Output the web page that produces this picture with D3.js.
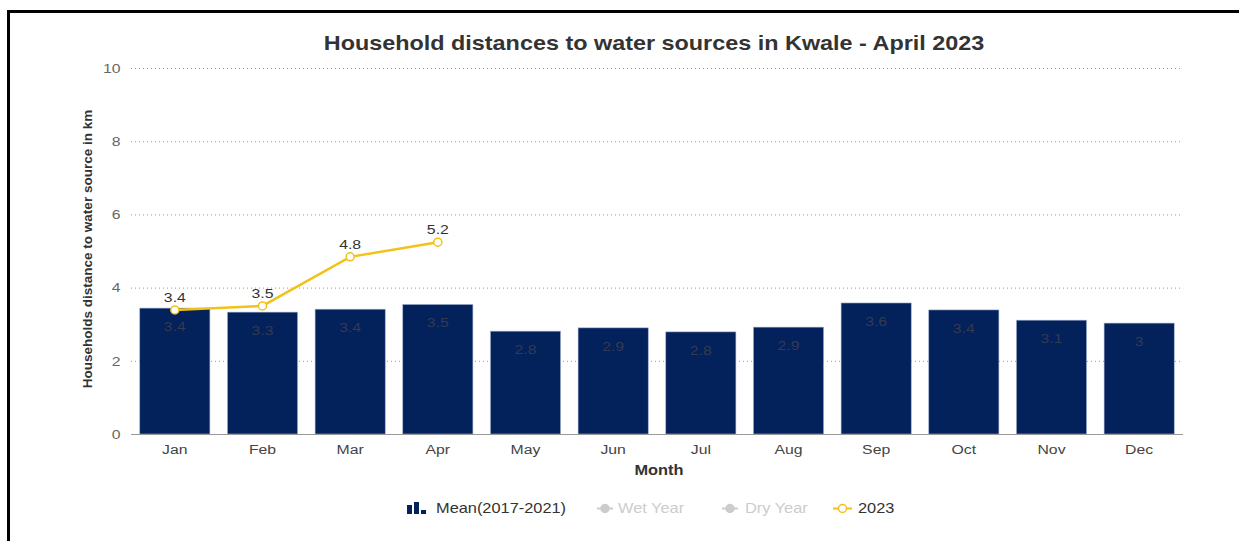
<!DOCTYPE html>
<meta charset="utf-8">
<script src="https://d3js.org/d3.v7.min.js"></script>
<style>
  body { margin: 0; background: #fff; }
  text { font-family: "Liberation Sans", Arial, sans-serif; }
</style>
<div id="my_dataviz"></div>
<script>
// data
var months = ["Jan", "Feb", "Mar", "Apr", "May", "Jun", "Jul", "Aug", "Sep", "Oct", "Nov", "Dec"];
var meanValues = [3.44, 3.33, 3.41, 3.54, 2.81, 2.9, 2.79, 2.92, 3.58, 3.39, 3.11, 3.03];
var months2023 = ["Jan", "Feb", "Mar", "Apr"];
var values2023 = [3.39, 3.5, 4.84, 5.24];
var yTicks = [0, 2, 4, 6, 8, 10];
var legendItems = ["Mean(2017-2021)", "Wet Year", "Dry Year", "2023"];

var W = 1239, H = 541;
var SX = 1.17; // the source image is a bit stretched sideways
var margin = {top: 68, right: 56, bottom: 107, left: 131};
var width = W - margin.left - margin.right,
    height = H - margin.top - margin.bottom;

var svg = d3.select("#my_dataviz").append("svg")
    .attr("width", W).attr("height", H);

// helper for horizontal text
function label(parent, tx, ty, str, size, color, anchor, bold) {
  return parent.append("text")
    .attr("transform", "translate(" + tx + "," + ty + ") scale(" + SX + ",1)")
    .attr("text-anchor", anchor || "middle")
    .attr("fill", color)
    .style("font-size", size + "px")
    .style("font-weight", bold ? "bold" : "normal")
    .text(str);
}

// black frame (cut by the screenshot)
svg.append("rect")
    .attr("x", 8.5).attr("y", 11.5)
    .attr("width", W + 20).attr("height", H + 20)
    .attr("fill", "none").attr("stroke", "#000").attr("stroke-width", 3);

var g = svg.append("g")
    .attr("transform", "translate(" + margin.left + "," + margin.top + ")");

var x = d3.scaleBand().domain(months).range([0, width]).paddingInner(0.2).paddingOuter(0.1);
var y = d3.scaleLinear().domain([0, 10]).range([height, 0]);

// grid
g.append("g").selectAll("line")
  .data(yTicks.filter(function(d) { return d > 0; }))
  .enter().append("line")
    .attr("x1", 0).attr("x2", width)
    .attr("y1", function(d) { return y(d) + 0.5; })
    .attr("y2", function(d) { return y(d) + 0.5; })
    .attr("stroke", "#999").attr("stroke-dasharray", "1,3");

// y axis
var yAxis = g.append("g")
    .call(d3.axisLeft(y).tickValues(yTicks).tickSize(0).tickPadding(9));
yAxis.select(".domain").remove();
yAxis.selectAll("text").attr("fill", "#666").style("font-size", "13.5px")
    .attr("transform", "scale(" + SX + ",1)");

// bars
g.append("g").selectAll("rect")
  .data(meanValues)
  .enter().append("rect")
    .attr("x", function(d, i) { return x(months[i]); })
    .attr("y", function(d) { return y(d); })
    .attr("width", x.bandwidth())
    .attr("height", function(d) { return height - y(d); })
    .attr("fill", "#03215b")
    .attr("stroke", "#9fb0d0").attr("stroke-width", 0.6);

var barLabels = g.append("g");
meanValues.forEach(function(d, i) {
  label(barLabels, x(months[i]) + x.bandwidth() / 2, y(d) + 23, +d.toFixed(1), 13.5, "#353a52");
});

// x axis
var xAxis = g.append("g")
    .attr("transform", "translate(0," + height + ")")
    .call(d3.axisBottom(x).tickSize(0).tickPadding(10));
xAxis.select(".domain").attr("stroke", "#999").attr("d", "M0,0.5H" + width);
xAxis.selectAll("text").attr("fill", "#444").style("font-size", "13.5px")
    .attr("transform", "scale(" + SX + ",1)");

// 2023 line
var line = d3.line()
    .x(function(d, i) { return x(months2023[i]) + x.bandwidth() / 2; })
    .y(function(d) { return y(d); });
g.append("path")
    .datum(values2023)
    .attr("d", line)
    .attr("fill", "none").attr("stroke", "#f2c218").attr("stroke-width", 2.5);
g.append("g").selectAll("circle")
  .data(values2023)
  .enter().append("circle")
    .attr("cx", function(d, i) { return x(months2023[i]) + x.bandwidth() / 2; })
    .attr("cy", function(d) { return y(d); })
    .attr("r", 4)
    .attr("fill", "#fff").attr("stroke", "#f2c218").attr("stroke-width", 1.5);
var lineLabels = g.append("g");
values2023.forEach(function(d, i) {
  label(lineLabels, x(months2023[i]) + x.bandwidth() / 2, y(d) - 8, d.toFixed(1), 13.5, "#333");
});

// titles
label(svg, margin.left + width / 2 - 3, 50,
  "Household distances to water sources in Kwale - April 2023", 20, "#333", "middle", true);

svg.append("text")
    .attr("transform", "translate(92," + (margin.top + height / 2 - 2) + ") rotate(-90)")
    .attr("text-anchor", "middle")
    .attr("fill", "#333")
    .style("font-size", "13.5px").style("font-weight", "bold")
    .text("Households distance to water source in km");

label(svg, margin.left + width / 2 + 2, 475, "Month", 14, "#333", "middle", true);

// legend
var legX = [407, 597, 722, 833];
var legTextX = [29, 21, 23, 25];
var legColor = ["#333", "#ccc", "#ccc", "#333"];
var leg = svg.append("g").attr("transform", "translate(0,508)");
legendItems.forEach(function(name, i) {
  var item = leg.append("g").attr("transform", "translate(" + legX[i] + ",0)");
  if (i === 0) {
    [[0, 9], [7, 12], [14, 4]].forEach(function(b) {
      item.append("rect").attr("x", b[0]).attr("y", 6 - b[1])
        .attr("width", 5).attr("height", b[1]).attr("fill", "#03215b");
    });
  } else {
    var c = i === 3 ? "#f2c218" : "#ccc";
    var w = i === 3 ? 19 : 16;
    item.append("line").attr("x1", 0).attr("x2", w).attr("y1", 0.5).attr("y2", 0.5)
      .attr("stroke", c).attr("stroke-width", 2);
    item.append("circle").attr("cx", w / 2).attr("cy", 0.5).attr("r", 4)
      .attr("fill", i === 3 ? "#fff" : c).attr("stroke", c).attr("stroke-width", 1.5);
  }
  label(item, legTextX[i], 5, name, 14, legColor[i], "start");
});
</script>
